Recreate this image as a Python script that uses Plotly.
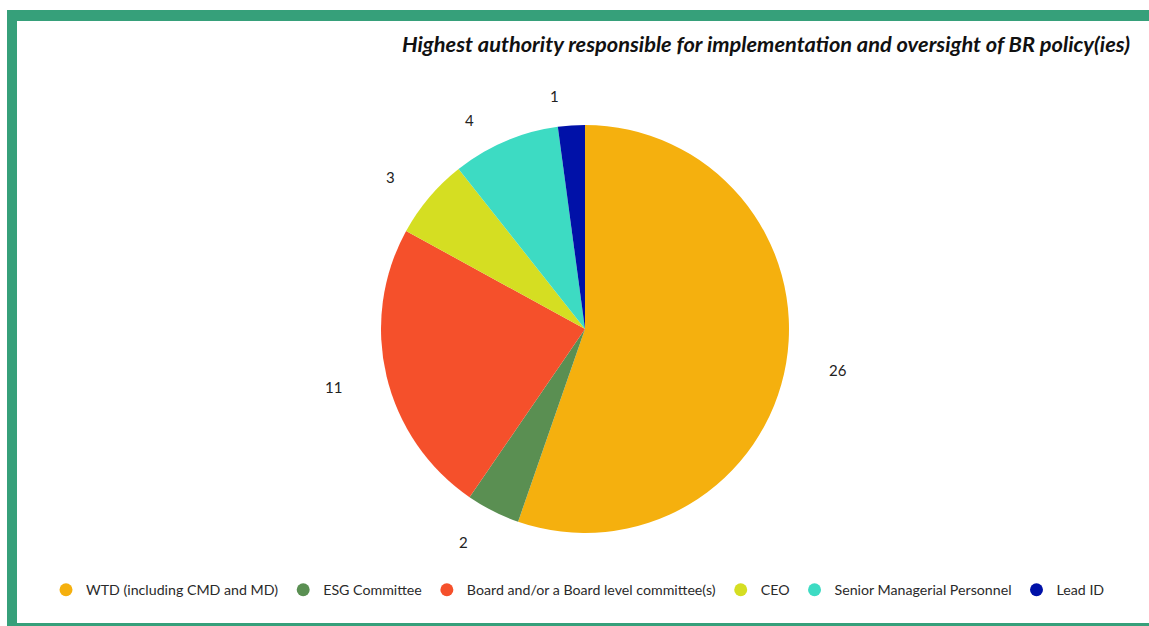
import numpy as np
import plotly.graph_objects as go

# Data
categories = [
    "WTD (including CMD and MD)",
    "ESG Committee",
    "Board and/or a Board level committee(s)",
    "CEO",
    "Senior Managerial Personnel",
    "Lead ID",
]
counts = [26, 2, 11, 3, 4, 1]
colors = ["#F5B00E", "#5A8F52", "#F5502B", "#D5DE22", "#3DDBC3", "#0011A8"]

title_text = "Highest authority responsible for implementation and oversight of BR policy(ies)"

# Canvas and pie geometry (pixels)
W, H = 1149, 626
cx, cy, R = 585, 329, 204
label_r = 1.22 * R
# small per-label adjustments to keep labels clear of each other
label_nudge = [(8, 0), (-9, -9), (-9, 0), (-4, 9), (-18, 20), (-14, 15)]
frame_color = "#36A07A"
font_family = "Lato, 'Open Sans', sans-serif"


def px_x(x):
    return x / W


def px_y(y):
    return 1 - y / H


fig = go.Figure()

fig.add_trace(go.Pie(
    labels=categories,
    values=counts,
    marker=dict(colors=colors, line=dict(width=0)),
    sort=False,
    direction="clockwise",
    rotation=0,
    textinfo="none",
    hoverinfo="label+value",
    showlegend=False,
    domain=dict(x=[px_x(cx - R), px_x(cx + R)], y=[px_y(cy + R), px_y(cy - R)]),
))

# Legend entries with round markers
for name, col in zip(categories, colors):
    fig.add_trace(go.Scatter(
        x=[None], y=[None], mode="markers", name=name,
        marker=dict(symbol="circle", size=13, color=col),
        hoverinfo="skip",
    ))

# Value labels placed outside each slice at its mid-angle
total = float(np.sum(counts))
cum = np.cumsum(counts) - np.array(counts) / 2.0
mid_angles = cum / total * 2 * np.pi
annotations = []
for v, a, (nx, ny) in zip(counts, mid_angles, label_nudge):
    lx = cx + label_r * np.sin(a) + nx
    ly = cy - label_r * np.cos(a) + ny
    annotations.append(dict(
        x=px_x(lx), y=px_y(ly), xref="paper", yref="paper",
        text=str(v), showarrow=False, xanchor="center", yanchor="middle",
        font=dict(family=font_family, size=15, color="#222222"),
    ))

annotations.append(dict(
    x=px_x(1132), y=px_y(43), xref="paper", yref="paper",
    text="<b><i>" + title_text + "</i></b>", showarrow=False,
    xanchor="right", yanchor="middle",
    font=dict(family=font_family, size=21.8, color="#111111"),
))

# Frame: thick top and left bands, thin bottom line
shapes = [
    dict(type="rect", xref="paper", yref="paper", x0=px_x(7), x1=1.0,
         y0=px_y(21), y1=px_y(10), fillcolor=frame_color, line=dict(width=0)),
    dict(type="rect", xref="paper", yref="paper", x0=px_x(7), x1=px_x(17),
         y0=0.0, y1=px_y(10), fillcolor=frame_color, line=dict(width=0)),
    dict(type="rect", xref="paper", yref="paper", x0=px_x(7), x1=1.0,
         y0=0.0, y1=px_y(623), fillcolor=frame_color, line=dict(width=0)),
]

fig.update_layout(
    width=W, height=H,
    margin=dict(l=0, r=0, t=0, b=0),
    paper_bgcolor="white",
    plot_bgcolor="white",
    xaxis=dict(visible=False),
    yaxis=dict(visible=False),
    showlegend=True,
    legend=dict(
        orientation="h", x=px_x(46), y=px_y(590), xanchor="left", yanchor="middle",
        font=dict(family=font_family, size=14.2, color="#2A2A2A"),
        bgcolor="rgba(0,0,0,0)",
    ),
    annotations=annotations,
    shapes=shapes,
)

fig.write_html("out.html")
